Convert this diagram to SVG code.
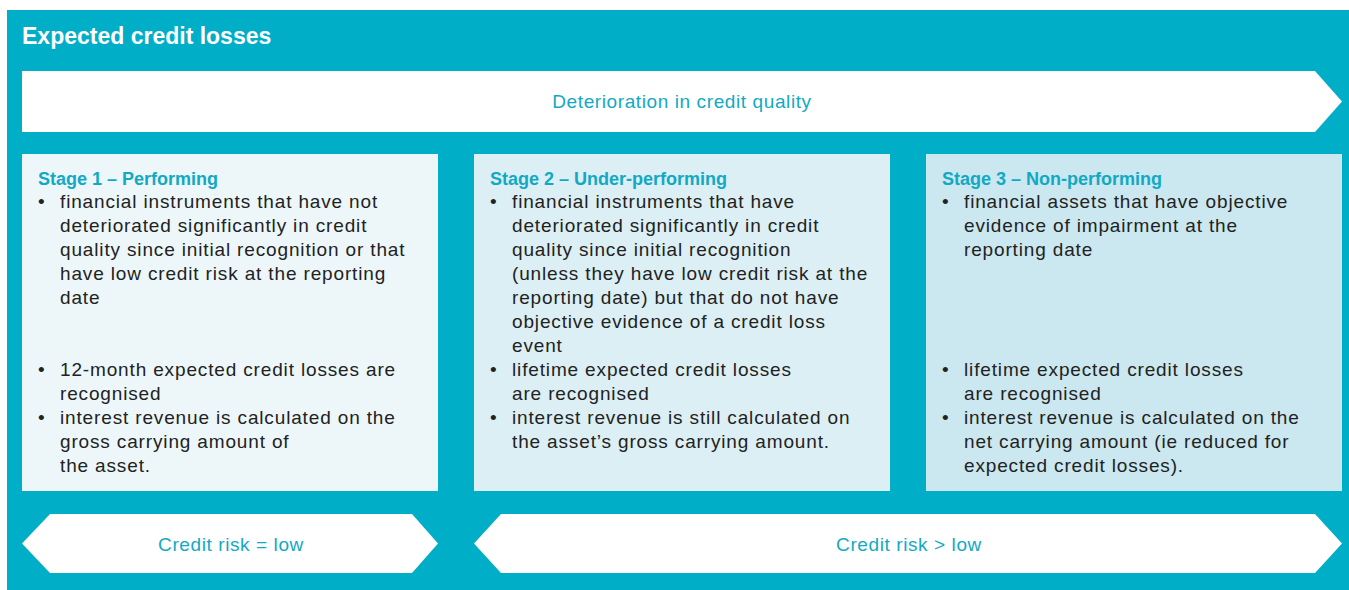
<svg xmlns="http://www.w3.org/2000/svg" width="1349" height="590" viewBox="0 0 1349 590">
<style>
.title{font-family:"Liberation Sans",Arial,sans-serif;font-size:23px;font-weight:bold;fill:#ffffff}
.lbl{font-family:"Liberation Sans",Arial,sans-serif;font-size:19px;letter-spacing:0.6px;fill:#12A9C4;text-anchor:middle}
.head{font-family:"Liberation Sans",Arial,sans-serif;font-size:18px;font-weight:bold;fill:#12A9C4}
.body{font-family:"Liberation Sans",Arial,sans-serif;font-size:19px;letter-spacing:0.85px;fill:#222222}
.arrow{fill:#ffffff}
</style>
<rect x="7" y="10" width="1342" height="580" fill="#00AEC7"/>
<text class="title" x="22" y="44">Expected credit losses</text>

<g id="deterioration">
<polygon class="arrow" points="22,71 1315,71 1342,101.5 1315,132 22,132"/>
<text class="lbl" x="682" y="108">Deterioration in credit quality</text>
</g>

<g id="stage1">
<rect x="22" y="154" width="416" height="337" fill="#EDF7FA"/>
<text class="head" x="38" y="185">Stage 1 – Performing</text>
<g class="body">
<text x="38" y="208">•</text>
<text x="60" y="208">financial instruments that have not</text>
<text x="60" y="232">deteriorated significantly in credit</text>
<text x="60" y="256">quality since initial recognition or that</text>
<text x="60" y="280">have low credit risk at the reporting</text>
<text x="60" y="304">date</text>
<text x="38" y="376">•</text>
<text x="60" y="376">12-month expected credit losses are</text>
<text x="60" y="400">recognised</text>
<text x="38" y="424">•</text>
<text x="60" y="424">interest revenue is calculated on the</text>
<text x="60" y="448">gross carrying amount of</text>
<text x="60" y="472">the asset.</text>
</g>
</g>

<g id="stage2">
<rect x="474" y="154" width="416" height="337" fill="#DCEFF5"/>
<text class="head" x="490" y="185">Stage 2 – Under-performing</text>
<g class="body">
<text x="490" y="208">•</text>
<text x="512" y="208">financial instruments that have</text>
<text x="512" y="232">deteriorated significantly in credit</text>
<text x="512" y="256">quality since initial recognition</text>
<text x="512" y="280">(unless they have low credit risk at the</text>
<text x="512" y="304">reporting date) but that do not have</text>
<text x="512" y="328">objective evidence of a credit loss</text>
<text x="512" y="352">event</text>
<text x="490" y="376">•</text>
<text x="512" y="376">lifetime expected credit losses</text>
<text x="512" y="400">are recognised</text>
<text x="490" y="424">•</text>
<text x="512" y="424">interest revenue is still calculated on</text>
<text x="512" y="448">the asset’s gross carrying amount.</text>
</g>
</g>

<g id="stage3">
<rect x="926" y="154" width="416" height="337" fill="#CBE7EF"/>
<text class="head" x="942" y="185">Stage 3 – Non-performing</text>
<g class="body">
<text x="942" y="208">•</text>
<text x="964" y="208">financial assets that have objective</text>
<text x="964" y="232">evidence of impairment at the</text>
<text x="964" y="256">reporting date</text>
<text x="942" y="376">•</text>
<text x="964" y="376">lifetime expected credit losses</text>
<text x="964" y="400">are recognised</text>
<text x="942" y="424">•</text>
<text x="964" y="424">interest revenue is calculated on the</text>
<text x="964" y="448">net carrying amount (ie reduced for</text>
<text x="964" y="472">expected credit losses).</text>
</g>
</g>

<g id="risk-low">
<polygon class="arrow" points="22,543.5 50,514 412,514 438,543.5 412,573 50,573"/>
<text class="lbl" x="231" y="551">Credit risk = low</text>
</g>

<g id="risk-high">
<polygon class="arrow" points="474,543.5 501,514 1315,514 1342,543.5 1315,573 501,573"/>
<text class="lbl" x="909" y="551">Credit risk &gt; low</text>
</g>
</svg>
